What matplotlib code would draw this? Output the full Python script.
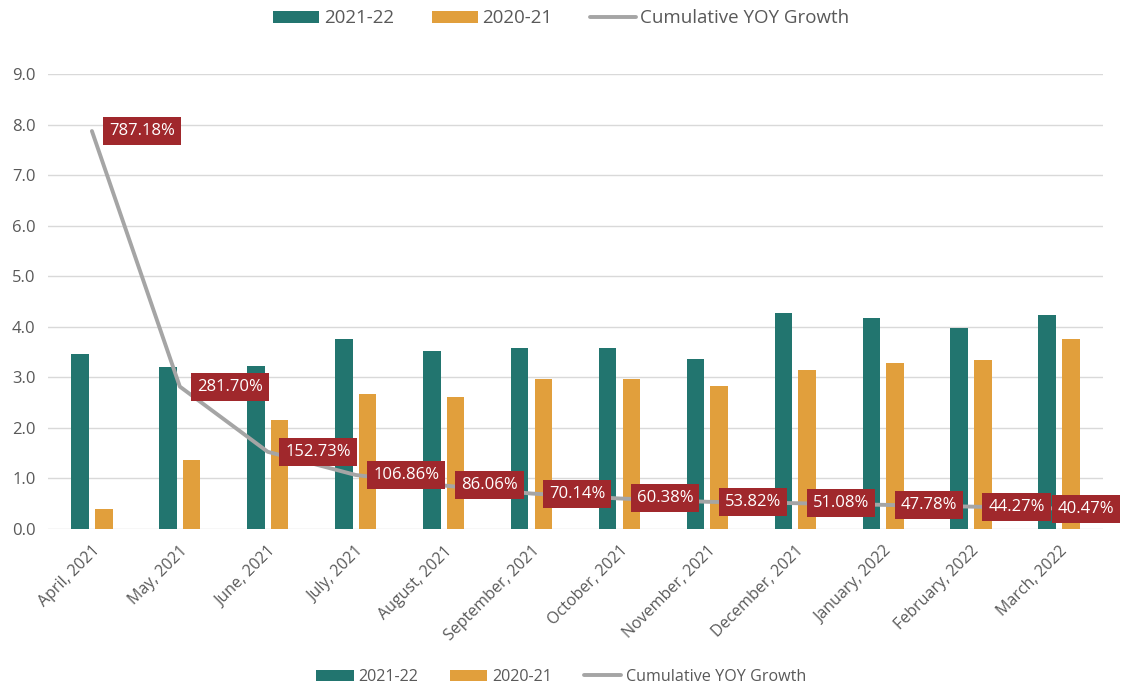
import matplotlib.pyplot as plt
import numpy as np

plt.rcParams['font.family'] = ['Open Sans', 'DejaVu Sans']

months = ['April, 2021', 'May, 2021', 'June, 2021', 'July, 2021', 'August, 2021',
          'September, 2021', 'October, 2021', 'November, 2021', 'December, 2021',
          'January, 2022', 'February, 2022', 'March, 2022']
fy2122 = [3.46, 3.21, 3.22, 3.75, 3.52, 3.58, 3.59, 3.36, 4.27, 4.17, 3.98, 4.23]
fy2021 = [0.39, 1.36, 2.16, 2.67, 2.62, 2.97, 2.97, 2.83, 3.15, 3.29, 3.35, 3.76]
growth = [787.18, 281.70, 152.73, 106.86, 86.06, 70.14, 60.38, 53.82, 51.08, 47.78, 44.27, 40.47]

green = '#22756F'
orange = '#E19F3C'
grey = '#A5A5A5'
red = '#A0282C'
txt = '#595959'

fig = plt.figure(figsize=(11.23, 6.84), dpi=100)
ax = fig.add_axes([0.0427, 0.2266, 0.9395, 0.6652])

x = np.arange(len(months))
w = 0.2
b1 = ax.bar(x - 0.135, fy2122, w, color=green, label='2021-22', zorder=2)
b2 = ax.bar(x + 0.135, fy2021, w, color=orange, label='2020-21', zorder=2)
g = np.array(growth) / 100
ln, = ax.plot(x, g, color=grey, lw=2.8, label='Cumulative YOY Growth', zorder=3,
              solid_capstyle='round')

# data labels: white text in dark red boxes, right of each point
# (the last one is pulled back so it stays inside the picture)
for i, (xi, gi, p) in enumerate(zip(x, g, growth)):
    dx = 12.5 if i < len(growth) - 1 else -1
    ax.annotate(f'{p:.2f}%', (xi, gi), xytext=(dx, 0), textcoords='offset points',
                ha='left', va='center', color='white', fontsize=12, zorder=5,
                annotation_clip=False,
                bbox=dict(boxstyle='square,pad=0.36', fc=red, ec='none'))

ax.set_xlim(-0.5, len(months) - 0.5)
ax.set_ylim(0, 9)
ax.set_yticks(np.arange(0, 9.5, 1.0))
ax.set_yticklabels([f'{v:.1f}' for v in np.arange(0, 9.5, 1.0)])
ax.yaxis.grid(True, color='#D9D9D9', lw=1, zorder=0)
ax.set_axisbelow(True)
for s in ax.spines.values():
    s.set_visible(False)
ax.tick_params(length=0, colors=txt)
ax.tick_params(axis='y', pad=9, labelsize=12)
ax.tick_params(axis='x', pad=10, labelsize=11.5)
ax.set_xticks(x)
ax.set_xticklabels(months, rotation=45, ha='right', rotation_mode='anchor')

handles = [b1, b2, ln]
labels = ['2021-22', '2020-21', 'Cumulative YOY Growth']
fig.legend(handles, labels, loc='center', bbox_to_anchor=(0.5, 0.973), ncol=3,
           frameon=False, fontsize=13.5, labelcolor=txt, handlelength=2.45,
           handleheight=0.65, columnspacing=2.0, handletextpad=0.25)
fig.legend(handles, labels, loc='center', bbox_to_anchor=(0.5, 0.01), ncol=3,
           frameon=False, fontsize=11.6, labelcolor=txt, handlelength=2.3,
           handleheight=0.75, columnspacing=2.0, handletextpad=0.3)

plt.savefig('out.png', dpi=100)
